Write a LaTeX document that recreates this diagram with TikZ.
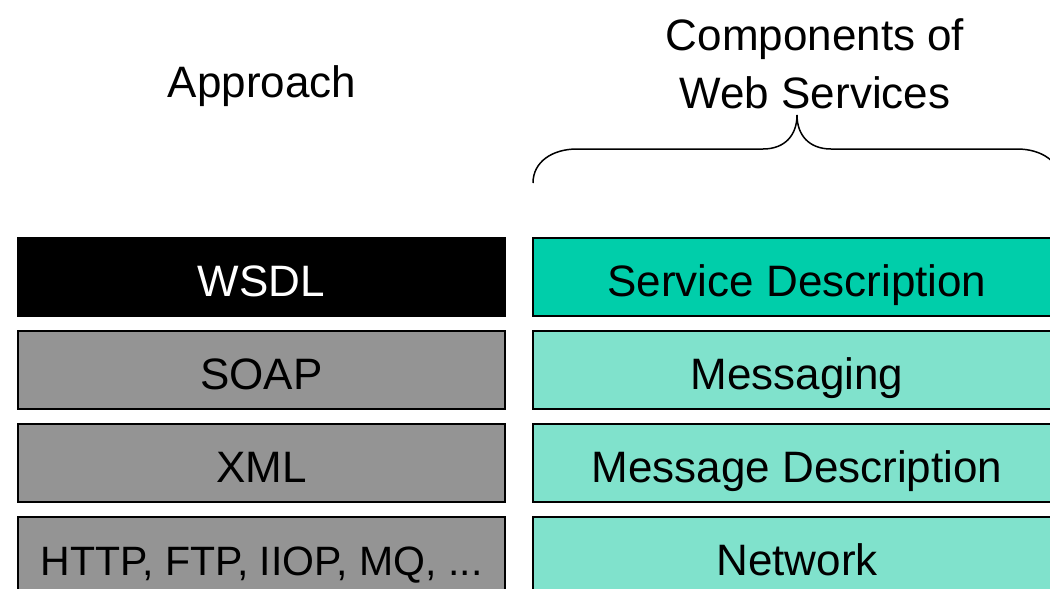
\documentclass[tikz,border=0pt]{standalone}
\usepackage{fontspec}
\setmainfont{Liberation Sans}
\usepackage{tikz}
\usetikzlibrary{positioning}

\definecolor{wsteal}{RGB}{0,206,170}
\definecolor{wslight}{RGB}{128,226,204}
\definecolor{wsgray}{RGB}{148,148,148}

\begin{document}
\begin{tikzpicture}[x=1pt, y=-1pt, node distance=13.5pt,
    every node/.style = {font=\fontsize{44}{58}\selectfont},
    layer/.style = {shape=rectangle, draw, line width=1.5pt, minimum height=78pt, inner sep=0pt, text height=40pt, text depth=2pt},
    approach/.style = {layer, minimum width=487pt, fill=wsgray},
    component/.style = {layer, minimum width=528pt, fill=wslight}]
    \useasboundingbox (0,0) rectangle (1050,589);

    % headings
    \node[anchor=base] (apphead) at (262,97) {Approach};
    \node[anchor=base, align=center] (comphead) at (815,108) {Components of\\Web Services};

    % left stack
    \node[approach, fill=black, text=white] (wsdl) at (261.5,277) {WSDL};
    \node[approach, below=of wsdl] (soap) {SOAP};
    \node[approach, below=of soap] (xml) {XML};
    \node[approach, below=of xml, font=\fontsize{41}{50}\selectfont] (http) {HTTP, FTP, IIOP, MQ, ...};

    % right stack
    \node[component, fill=wsteal, right=26.5pt of wsdl.east, anchor=west] (servdesc) {Service Description};
    \node[component, below=of servdesc] (messaging) {Messaging};
    \node[component, below=of messaging] (msgdesc) {Message Description};
    \node[component, below=of msgdesc] (network) {Network};

    % brace
    \draw[line width=1.5pt] (533,183) .. controls (533,162) and (552,149) .. (577,149) -- (763,149)
        .. controls (785,149) and (797,135) .. (797,115)
        .. controls (797,135) and (809,149) .. (831,149) -- (1017,149)
        .. controls (1042,149) and (1061,162) .. (1061,183);
\end{tikzpicture}
\end{document}
